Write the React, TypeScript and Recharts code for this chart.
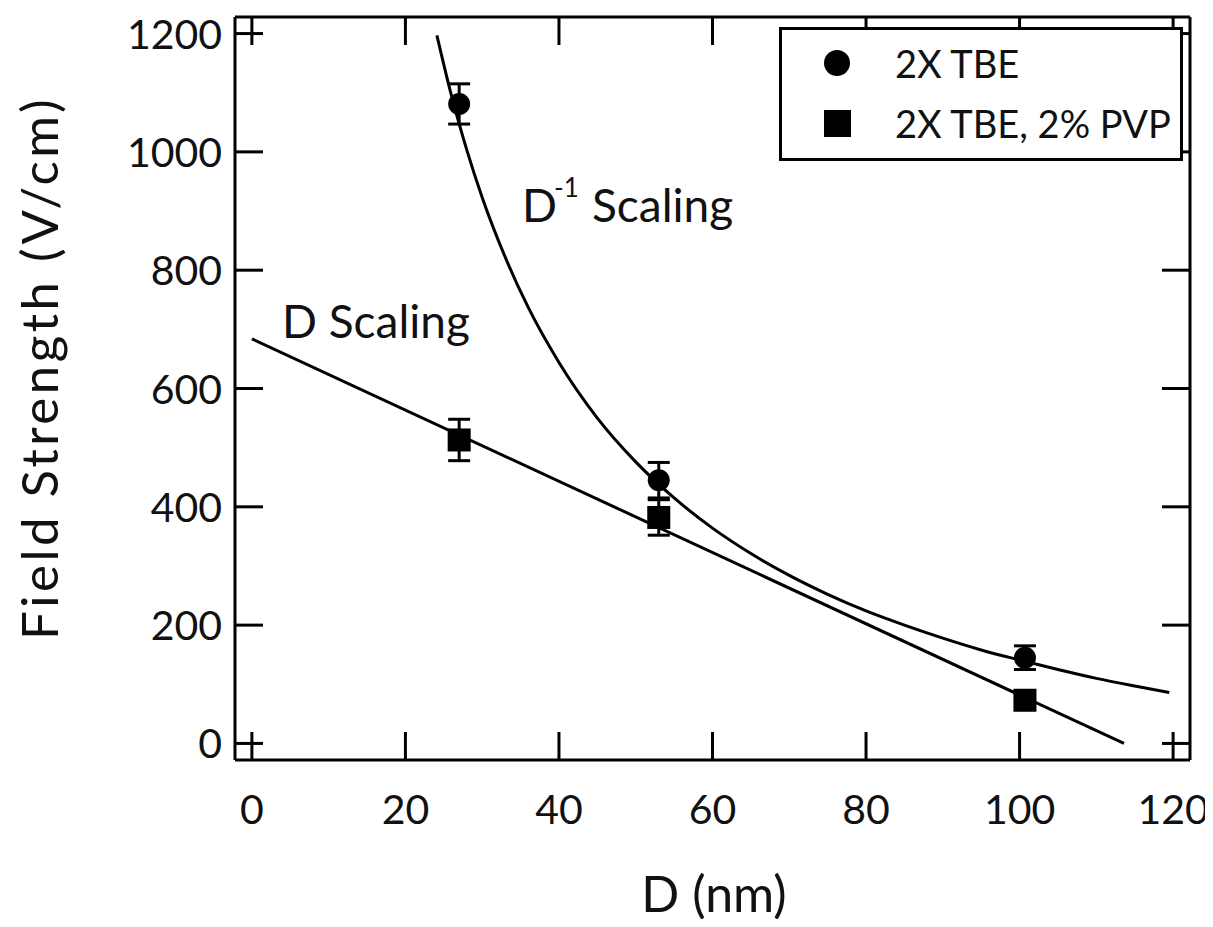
import { ComposedChart, Line, Scatter, XAxis, YAxis, ErrorBar, Legend } from "recharts";

const FONT = "Lato, 'Open Sans', sans-serif";
const INK = "#111";

const X_TICKS = [0, 20, 40, 60, 80, 100, 120];
const Y_TICKS = [0, 200, 400, 600, 800, 1000, 1200];

// measured points, D (nm) vs field strength (V/cm), with error
const tbe = [
  { x: 27, y: 1081, err: 34 },
  { x: 53, y: 445, err: 30 },
  { x: 100.7, y: 145, err: 20 },
];
const tbePvp = [
  { x: 27, y: 513, err: 35 },
  { x: 53, y: 382, err: 30 },
  { x: 100.7, y: 73, err: 10 },
];

// fit curves
const invFitD = [24.1, 26, 28, 30, 33, 36, 40, 45, 50, 55, 60, 65, 70, 75, 80, 85, 90, 95, 100, 105, 110, 115, 119.5];
const invFitE = [1197, 1095, 1003, 923, 822, 737, 644, 550, 476, 415, 364, 321, 284, 252, 224, 200, 178, 158, 141, 125, 110, 97, 86];
const linFitD = [0, 113.6];
const linFitE = [684, 0];

const invFit = invFitD.map((x, i) => ({ x, y: invFitE[i] }));
const linFit = linFitD.map((x, i) => ({ x, y: linFitE[i] }));

const W = 1205;
const H = 911;
const TICK_LEN = 28;
const X_DOMAIN = [-2.2, 122.2];
const Y_DOMAIN = [-28, 1228];

const BottomTick = ({ x, y, payload }: any) => (
  <g>
    <line x1={x} y1={y} x2={x} y2={y - TICK_LEN} stroke="#000" strokeWidth={3} />
    <text x={x} y={y + 64} textAnchor="middle" fontSize={41} fontFamily={FONT} fill={INK}>
      {payload.value}
    </text>
  </g>
);
const TopTick = ({ x, y }: any) => (
  <line x1={x} y1={y} x2={x} y2={y + TICK_LEN} stroke="#000" strokeWidth={3} />
);
const LeftTick = ({ x, y, payload }: any) => (
  <g>
    <line x1={x} y1={y} x2={x + TICK_LEN} y2={y} stroke="#000" strokeWidth={3} />
    <text x={x - 13} y={y + 15} textAnchor="end" fontSize={41} fontFamily={FONT} fill={INK}>
      {payload.value}
    </text>
  </g>
);
const RightTick = ({ x, y }: any) => (
  <line x1={x} y1={y} x2={x - TICK_LEN} y2={y} stroke="#000" strokeWidth={3} />
);

const Dot = ({ cx, cy }: any) => <circle cx={cx} cy={cy} r={11} fill="#000" />;
const Box = ({ cx, cy }: any) => <rect x={cx - 11.5} y={cy - 11.5} width={23} height={23} fill="#000" />;

const renderLegend = () => (
  <div
    style={{
      width: 404,
      height: 134,
      boxSizing: "border-box",
      border: "3px solid #000",
      background: "#fff",
      position: "relative",
      fontFamily: FONT,
      fontSize: 38,
      color: INK,
    }}
  >
    <svg width={60} height={130} style={{ position: "absolute", left: 28, top: 0 }}>
      <circle cx={27} cy={33} r={13} fill="#000" />
      <rect x={14} y={80} width={27} height={27} fill="#000" />
    </svg>
    <div style={{ position: "absolute", left: 113, top: 33, transform: "translateY(-50%)", whiteSpace: "nowrap" }}>2X TBE</div>
    <div style={{ position: "absolute", left: 113, top: 93, transform: "translateY(-50%)", whiteSpace: "nowrap" }}>2X TBE, 2% PVP</div>
  </div>
);

export default function App() {
  return (
    <div style={{ position: "relative", width: W, height: H }}>
      <ComposedChart width={W} height={H} margin={{ top: 8, right: 22, bottom: 0, left: 0 }}>
        <XAxis
          xAxisId="bottom"
          type="number"
          dataKey="x"
          domain={X_DOMAIN}
          ticks={X_TICKS}
          interval={0}
          allowDataOverflow
          height={159}
          tickSize={0}
          tickMargin={0}
          tickLine={false}
          axisLine={{ stroke: "#000", strokeWidth: 3 }}
          tick={<BottomTick />}
        />
        <XAxis
          xAxisId="top"
          orientation="top"
          type="number"
          dataKey="x"
          domain={X_DOMAIN}
          ticks={X_TICKS}
          interval={0}
          allowDataOverflow
          height={1}
          tickSize={0}
          tickMargin={0}
          tickLine={false}
          axisLine={{ stroke: "#000", strokeWidth: 3 }}
          tick={<TopTick />}
        />
        <YAxis
          yAxisId="left"
          type="number"
          dataKey="y"
          domain={Y_DOMAIN}
          ticks={Y_TICKS}
          interval={0}
          allowDataOverflow
          width={227}
          tickSize={0}
          tickMargin={0}
          tickLine={false}
          axisLine={{ stroke: "#000", strokeWidth: 3 }}
          tick={<LeftTick />}
        />
        <YAxis
          yAxisId="right"
          orientation="right"
          type="number"
          dataKey="y"
          domain={Y_DOMAIN}
          ticks={Y_TICKS}
          interval={0}
          allowDataOverflow
          width={1}
          tickSize={0}
          tickMargin={0}
          tickLine={false}
          axisLine={{ stroke: "#000", strokeWidth: 3 }}
          tick={<RightTick />}
        />
        <Legend
          layout="vertical"
          align="center"
          verticalAlign="middle"
          content={renderLegend}
          wrapperStyle={{ position: "absolute", left: 771, top: 19, width: 404, height: 134 }}
        />
        {/* invisible series so the mirrored top/right axes get a scale */}
        <Line
          xAxisId="top"
          yAxisId="right"
          data={linFit}
          dataKey="y"
          stroke="none"
          dot={false}
          isAnimationActive={false}
          legendType="none"
        />
        <Line
          xAxisId="bottom"
          yAxisId="left"
          data={invFit}
          dataKey="y"
          type="monotone"
          stroke="#000"
          strokeWidth={3}
          dot={false}
          isAnimationActive={false}
          legendType="none"
        />
        <Line
          xAxisId="bottom"
          yAxisId="left"
          data={linFit}
          dataKey="y"
          type="linear"
          stroke="#000"
          strokeWidth={3}
          dot={false}
          isAnimationActive={false}
          legendType="none"
        />
        <Scatter xAxisId="bottom" yAxisId="left" name="2X TBE" data={tbe} dataKey="y" shape={<Dot />} isAnimationActive={false}>
          <ErrorBar dataKey="err" direction="y" width={11} stroke="#000" strokeWidth={3} isAnimationActive={false} />
        </Scatter>
        <Scatter xAxisId="bottom" yAxisId="left" name="2X TBE, 2% PVP" data={tbePvp} dataKey="y" shape={<Box />} isAnimationActive={false}>
          <ErrorBar dataKey="err" direction="y" width={11} stroke="#000" strokeWidth={3} isAnimationActive={false} />
        </Scatter>
      </ComposedChart>
      <svg width={W} height={H} style={{ position: "absolute", left: 0, top: 0, pointerEvents: "none", overflow: "visible" }}>
        <text
          x={50}
          y={360}
          transform="rotate(-90, 50, 360)"
          textAnchor="middle"
          fontSize={51}
          letterSpacing={3.5}
          fontFamily={FONT}
          fill={INK}
        >
          Field Strength (V/cm)
        </text>
        <text x={706} y={904} textAnchor="middle" fontSize={50} fontFamily={FONT} fill={INK}>
          D (nm)
        </text>
        <text x={274} y={330} fontSize={46} fontFamily={FONT} fill={INK}>
          D Scaling
        </text>
        <text y={214} fontSize={46} fontFamily={FONT} fill={INK}>
          <tspan x={514}>D</tspan>
          <tspan x={546} y={189} fontSize={26}>-1</tspan>
          <tspan x={584} y={214}>Scaling</tspan>
        </text>
      </svg>
    </div>
  );
}
